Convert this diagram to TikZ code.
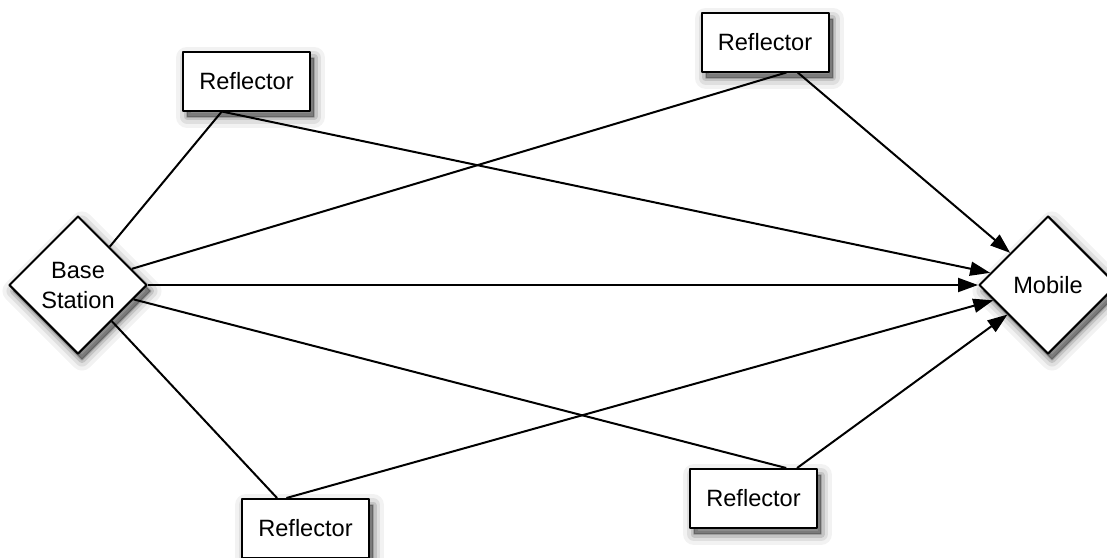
\documentclass[tikz,border=0pt]{standalone}
\usepackage{fontspec}
\setmainfont{Liberation Sans}
\usetikzlibrary{arrows.meta,shapes.geometric}

\begin{document}
\begin{tikzpicture}[x=0.5pt,y=-0.5pt,>={Triangle[length=10pt,width=7pt]},
        font=\fontsize{11.8}{15}\selectfont,
        soft/.style={line join=round,
                   preaction={draw=black,fill=black,line width=11pt,opacity=0.05,
                   transform canvas={xshift=2pt,yshift=-3pt}},
                   preaction={draw=black,fill=black,line width=7pt,opacity=0.08,
                   transform canvas={xshift=2pt,yshift=-3pt}},
                   preaction={draw=black,fill=black,line width=3.5pt,opacity=0.12,
                   transform canvas={xshift=2pt,yshift=-3pt}},
                   preaction={draw=black,fill=black,line width=1pt,opacity=0.18,
                   transform canvas={xshift=2pt,yshift=-3pt}}},
        refl/.style={soft,draw=black,line width=1pt,fill=white,inner sep=0pt,
                   minimum width=63.5pt,minimum height=29.5pt},
        stn/.style={soft,diamond,aspect=1,draw=black,line width=1pt,fill=white,
                   inner sep=0pt,minimum size=69pt,align=center},
        ray/.style={line width=1pt}]
        \useasboundingbox (0,0) rectangle (1107,557);
        \node[stn] (bs) at (78,285) {Base\\Station};
        \node[stn] (mob) at (1048,285) {Mobile};
        \node[refl] (r1) at (246.5,81) {Reflector};
        \node[refl] (r2) at (765,42) {Reflector};
        \node[refl] (r3) at (305.5,528.5) {Reflector};
        \node[refl] (r4) at (753.5,498.5) {Reflector};
        % direct path
        \draw[ray,->] (bs) -- (mob);
        % paths by way of the reflectors
        \draw[ray] (bs) -- (r1.231);
        \draw[ray,->] (r1.231) -- (mob);
        \draw[ray] (bs) -- (r2.-55);
        \draw[ray,->] (r2.-43) -- (mob);
        \draw[ray] (bs) -- (r3.133);
        \draw[ray,->] (r3.122) -- (mob);
        \draw[ray] (bs) -- (r4.43);
        \draw[ray,->] (r4.35) -- (mob);
      \end{tikzpicture}
\end{document}
